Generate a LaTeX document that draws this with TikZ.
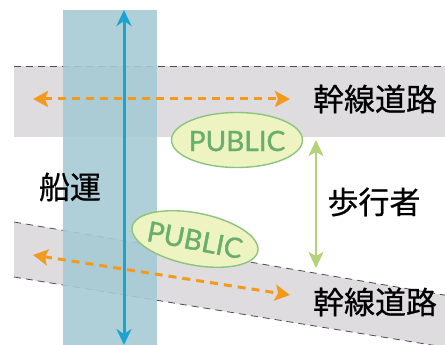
\documentclass[tikz,border=0pt]{standalone}
\usepackage{fontspec}
\newfontfamily\cjk[FakeBold=0.6]{Noto Sans CJK JP}
\newfontfamily\latin[FakeBold=1.2]{Lato}
\usetikzlibrary{arrows.meta,shapes.geometric}
\definecolor{bandgray}{HTML}{DEDCDE}
\definecolor{chanblue}{HTML}{A6CBD5}
\definecolor{arrblue}{HTML}{1DA3D0}
\definecolor{orng}{HTML}{F39A1E}
\definecolor{pubfill}{HTML}{EEF3C2}
\definecolor{pubedge}{HTML}{8CC47E}
\definecolor{pubtext}{HTML}{68AE6C}
\definecolor{walkgreen}{HTML}{B5D27A}
\tikzset{
  bandfill/.style={fill=bandgray},
  edgeline/.style={draw=black!70, line width=0.8pt, dash pattern=on 7pt off 5pt},
  chanfill/.style={fill=chanblue, opacity=0.9},
  shiparrow/.style={draw=arrblue, line width=3pt, {Stealth[length=16pt,width=15pt,inset=5pt]}-{Stealth[length=16pt,width=15pt,inset=5pt]}},
  roadarrow/.style={draw=orng, line width=3pt, dash pattern=on 8pt off 6pt, {Stealth[length=15pt,width=16pt,inset=3pt]}-{Stealth[length=15pt,width=16pt,inset=3pt]}},
  walkarrow/.style={draw=walkgreen, line width=2.6pt, {Stealth[length=16pt,width=15pt,inset=4pt]}-{Stealth[length=16pt,width=15pt,inset=4pt]}},
  pubshape/.style={draw=pubedge, line width=1.4pt, fill=pubfill},
  pubtxt/.style={text=pubtext, inner sep=0pt, font=\latin\fontsize{28}{28}\selectfont},
  label/.style={font=\cjk\fontsize{31}{31}\selectfont, text=black, inner sep=0pt}
}
\begin{document}
\begin{tikzpicture}[x=1pt,y=-1pt]
\useasboundingbox (0,0) rectangle (445,345);
\clip (0,0) rectangle (445,345);
% upper road band
\fill[bandfill] (14,66) rectangle (450,137);
\draw[edgeline] (14,66) -- (450,66);
% lower road band
\fill[bandfill] (14,222) -- (450,296) -- (450,348) -- (14,277) -- cycle;
\draw[edgeline] (14,222) -- (450,296);
\draw[edgeline] (14,277) -- (450,348);
% channel
\fill[chanfill] (63,10) rectangle (157,350);
% coordinates
\coordinate (shipS) at (124,345);
\coordinate (shipN) at (124,10);
\coordinate (r1W) at (33,99);
\coordinate (r1E) at (290,99);
\coordinate (r2W) at (33,255);
\coordinate (r2E) at (290,295);
\coordinate (wN) at (316,140);
\coordinate (wS) at (316,268);
% arrows
\draw[shiparrow] (shipS) -- (shipN);
\draw[roadarrow] (r1W) -- (r1E);
\draw[roadarrow] (r2W) -- (r2E);
\draw[walkarrow] (wN) -- (wS);
% PUBLIC ellipses
\draw[pubshape] (237,140) ellipse [x radius=65.5, y radius=27.5];
\node[pubtxt] (pub1) at (237,141) {PUBLIC};
\draw[pubshape, rotate around={-11:(195,239)}] (195,239) ellipse [x radius=64, y radius=26];
\node[pubtxt, rotate=-11] (pub2) at (195,240) {PUBLIC};
% labels
\node[label] (road1) at (375,99) {幹線道路};
\node[label] (road2) at (375,302) {幹線道路};
\node[label] (walk) at (374,202) {歩行者};
\node[label] (ship) at (70,187) {船運};
\end{tikzpicture}
\end{document}
